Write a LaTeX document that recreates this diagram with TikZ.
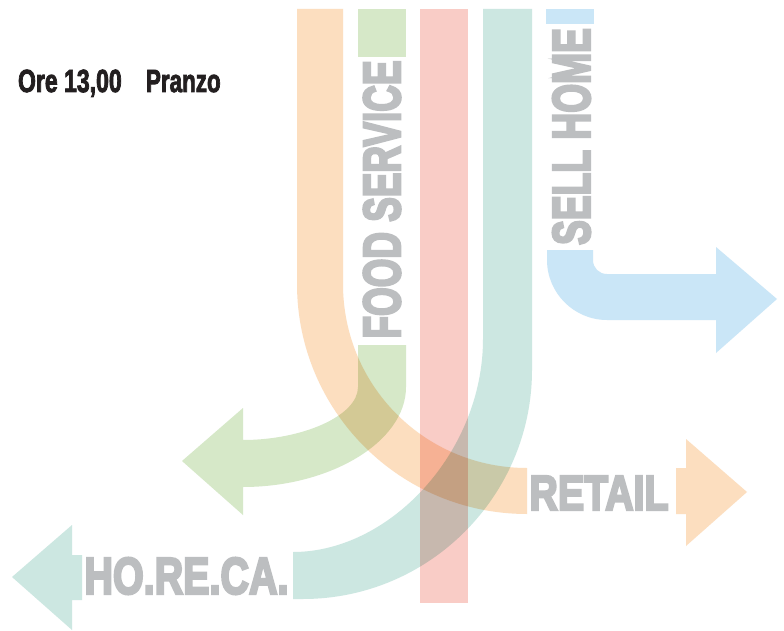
\documentclass[tikz,border=0pt]{standalone}
\usepackage{fontspec}
\usepackage{graphicx}
\setmainfont{Liberation Sans}

% heavy grotesque for the channel names and the heading
\font\wordfont="Liberation Sans Bold:embolden=5" at 50pt
\font\headfont="Liberation Sans Bold:embolden=3" at 32pt

\definecolor{bandorange}{RGB}{252,222,191}
\definecolor{bandgreen}{RGB}{214,232,200}
\definecolor{bandred}{RGB}{249,204,198}
\definecolor{bandteal}{RGB}{204,231,225}
\definecolor{bandblue}{RGB}{202,230,247}
\definecolor{wordgrey}{RGB}{188,190,192}
\definecolor{ink}{RGB}{35,31,32}

% a word squeezed into a box of given width and cap height
\newcommand{\fitword}[3]{\resizebox{#1pt}{#2pt}{\wordfont #3}}

\tikzset{
  band/.style={draw=none},
  orangeband/.style={band, fill=bandorange},
  greenband/.style={band, fill=bandgreen},
  redband/.style={band, fill=bandred},
  tealband/.style={band, fill=bandteal},
  blueband/.style={band, fill=bandblue},
  channel/.style={inner sep=0pt, outer sep=0pt, text=wordgrey},
  heading/.style={inner sep=0pt, outer sep=0pt, text=ink, anchor=base west},
}

\begin{document}
\begin{tikzpicture}[x=1pt, y=-1pt]
  \fill[white] (0,0) rectangle (784,631);
  \useasboundingbox (0,0) rectangle (784,631);

  \begin{scope}[blend mode=multiply]
    % orange: down, then bending right towards RETAIL
    \path[orangeband] (297,9) -- (297,284)
      .. controls (297,411) and (400,514) .. (527,514)
      -- (527,468)
      .. controls (425,468) and (343,386) .. (343,284)
      -- (343,9) -- cycle;
    \path[orangeband] (676,468) -- (686,468) -- (686,439) -- (747,492)
      -- (686,546) -- (686,514) -- (676,514) -- cycle;

    % green: short stub, then bending left
    \path[greenband] (358,9) rectangle (406,57);
    \path[greenband] (358,345) -- (406,345) -- (406,387)
      .. controls (406,442) and (330,487) .. (243,487)
      -- (243,515) -- (182,461) -- (243,408) -- (243,440)
      .. controls (302,440) and (358,416) .. (358,387) -- cycle;

    % red: straight down
    \path[redband] (420,9) rectangle (468,603);

    % teal: down, then a wide bend to the left towards HO.RE.CA.
    \path[tealband] (483,9) -- (532,9) -- (532,370)
      .. controls (532,496) and (429,599) .. (303,599)
      -- (293,599) -- (293,552)
      .. controls (390,552) and (483,452) .. (483,339) -- cycle;
    \path[tealband] (82,555) -- (72,555) -- (72,525) -- (12,577)
      -- (72,630) -- (72,600) -- (82,600) -- cycle;

    % blue: short stub, then a tight bend to the right
    \path[blueband] (546,9) rectangle (594,24);
    \path[blueband] (547,250) -- (593,250) -- (593,260)
      .. controls (593,268) and (599,274) .. (607,274)
      -- (716,274) -- (716,247) -- (777,299) -- (716,353) -- (716,320)
      -- (607,320) .. controls (574,320) and (547,293) .. (547,260) -- cycle;
  \end{scope}

  % channel names
  \node[channel, rotate=90] (food) at (382,199.5) {\fitword{278}{36.5}{FOOD SERVICE}};
  \node[channel, rotate=90] (sell) at (571.5,136.5) {\fitword{217}{37}{SELL HOME}};
  \node[channel] (retail) at (599,493) {\fitword{139}{34}{RETAIL}};
  \node[channel] (horeca) at (186.5,576) {\fitword{204}{36}{HO.RE.CA.}};

  % time of day
  \node[heading] (hour) at (18,92)
    {\scalebox{0.72}[1]{\headfont Ore 13,00}};
  \node[heading] (meal) at (146,92)
    {\scalebox{0.70}[1]{\headfont Pranzo}};
\end{tikzpicture}
\end{document}
